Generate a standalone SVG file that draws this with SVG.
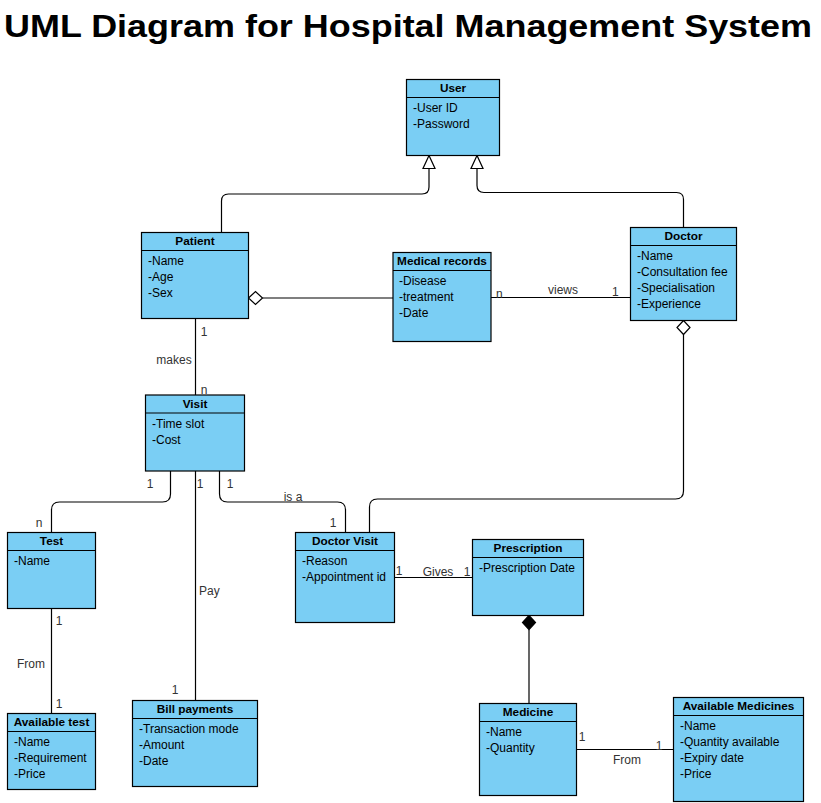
<svg xmlns="http://www.w3.org/2000/svg" width="821" height="803" viewBox="0 0 821 803">
<style>
.box{fill:#7acef4;stroke:#000;stroke-width:1.2}
.div{stroke:#000;stroke-width:1.2}
.hd{font-family:"Liberation Sans",Arial,sans-serif;font-size:11.8px;font-weight:bold;text-anchor:middle;fill:#000}
.at{font-family:"Liberation Sans",Arial,sans-serif;font-size:12px;fill:#000}
.lb{font-family:"Liberation Sans",Arial,sans-serif;font-size:12px;fill:#333}
.lbm{font-family:"Liberation Sans",Arial,sans-serif;font-size:12px;fill:#333;text-anchor:middle}
.ln{fill:none;stroke:#000;stroke-width:1.2}
.hollow{fill:#fff;stroke:#000;stroke-width:1.2}
.solid{fill:#000;stroke:#000;stroke-width:1.2}
</style>
<rect width="821" height="803" fill="#fff"/>
<text x="4" y="37" font-family="'Liberation Sans',Arial,sans-serif" font-size="32" font-weight="bold" textLength="808" lengthAdjust="spacingAndGlyphs">UML Diagram for Hospital Management System</text>

<g id="connectors">
  <path class="ln" d="M221.5,232.5 V201 Q221.5,194 228.5,194 H422 Q429,194 429,187 V168.5"/>
  <polygon class="hollow" points="429,155.5 423,168.5 435,168.5"/>
  <path class="ln" d="M683.5,227.5 V199.5 Q683.5,192.5 676.5,192.5 H484 Q477,192.5 477,185.5 V168.5"/>
  <polygon class="hollow" points="477,155.5 471,168.5 483,168.5"/>
  <path class="ln" d="M262.5,298 H393"/>
  <polygon class="hollow" points="248.5,298 255.5,291.5 262.5,298 255.5,304.5"/>
  <path class="ln" d="M491,297.5 H630.5"/>
  <text class="lb" x="496" y="298">n</text>
  <text class="lb" x="548" y="294">views</text>
  <text class="lb" x="612" y="296">1</text>
  <polygon class="hollow" points="683.5,320.5 690,327.5 683.5,334.5 677,327.5"/>
  <path class="ln" d="M683.5,334.5 V491 Q683.5,499 675.5,499 H377.5 Q369.5,499 369.5,507 V532.5"/>
  <path class="ln" d="M195.5,318.5 V395"/>
  <text class="lbm" x="204" y="336">1</text>
  <text class="lbm" x="174" y="364">makes</text>
  <text class="lbm" x="204" y="394">n</text>
  <path class="ln" d="M170.5,471 V494 Q170.5,502 162.5,502 H59.5 Q51.5,502 51.5,510 V532.5"/>
  <text class="lbm" x="150" y="487.5">1</text>
  <text class="lbm" x="39" y="527">n</text>
  <path class="ln" d="M195.5,471 V700.5"/>
  <text class="lbm" x="200" y="487.5">1</text>
  <text class="lb" x="199" y="595">Pay</text>
  <text class="lbm" x="175" y="694">1</text>
  <path class="ln" d="M219.5,471 V494 Q219.5,502 227.5,502 H337.5 Q345.5,502 345.5,510 V532.5"/>
  <text class="lbm" x="230" y="487.5">1</text>
  <text class="lbm" x="293" y="500.5">is a</text>
  <text class="lbm" x="333" y="527">1</text>
  <path class="ln" d="M51.5,608.5 V713.5"/>
  <text class="lbm" x="59" y="625">1</text>
  <text class="lbm" x="31" y="667.5">From</text>
  <text class="lbm" x="59" y="707.5">1</text>
  <path class="ln" d="M394.5,577.5 H472.5"/>
  <text class="lbm" x="399" y="575">1</text>
  <text class="lbm" x="438" y="575.5">Gives</text>
  <text class="lbm" x="467" y="576">1</text>
  <polygon class="solid" points="529,615.5 535.5,622.5 529,629.5 522.5,622.5"/>
  <path class="ln" d="M529,629.5 V703.5"/>
  <path class="ln" d="M576.5,749.5 H673.5"/>
  <text class="lbm" x="582" y="741">1</text>
  <text class="lbm" x="659" y="750">1</text>
  <text class="lbm" x="627" y="763.5">From</text>
</g>

<g id="user">
  <rect class="box" x="406.5" y="79.5" width="93" height="76"/>
  <line class="div" x1="406.5" y1="97.5" x2="499.5" y2="97.5"/>
  <text class="hd" x="453" y="92">User</text>
  <text class="at" x="413" y="112">-User ID</text>
  <text class="at" x="413" y="128">-Password</text>
</g>
<g id="patient">
  <rect class="box" x="141.5" y="232.5" width="107" height="86"/>
  <line class="div" x1="141.5" y1="250.5" x2="248.5" y2="250.5"/>
  <text class="hd" x="195" y="245">Patient</text>
  <text class="at" x="148" y="265">-Name</text>
  <text class="at" x="148" y="281">-Age</text>
  <text class="at" x="148" y="297">-Sex</text>
</g>
<g id="medical-records">
  <rect class="box" x="393" y="252.5" width="98" height="89"/>
  <line class="div" x1="393" y1="270.5" x2="491" y2="270.5"/>
  <text class="hd" x="442" y="265">Medical records</text>
  <text class="at" x="399" y="285">-Disease</text>
  <text class="at" x="399" y="301">-treatment</text>
  <text class="at" x="399" y="317">-Date</text>
</g>
<g id="doctor">
  <rect class="box" x="630.5" y="227.5" width="106" height="93"/>
  <line class="div" x1="630.5" y1="245.5" x2="736.5" y2="245.5"/>
  <text class="hd" x="683.5" y="240">Doctor</text>
  <text class="at" x="637" y="260">-Name</text>
  <text class="at" x="637" y="276">-Consultation fee</text>
  <text class="at" x="637" y="292">-Specialisation</text>
  <text class="at" x="637" y="308">-Experience</text>
</g>
<g id="visit">
  <rect class="box" x="145.5" y="395" width="99" height="76"/>
  <line class="div" x1="145.5" y1="413" x2="244.5" y2="413"/>
  <text class="hd" x="195" y="408">Visit</text>
  <text class="at" x="152" y="428">-Time slot</text>
  <text class="at" x="152" y="444">-Cost</text>
</g>
<g id="test">
  <rect class="box" x="7.5" y="532.5" width="88" height="76"/>
  <line class="div" x1="7.5" y1="550.5" x2="95.5" y2="550.5"/>
  <text class="hd" x="51.5" y="545">Test</text>
  <text class="at" x="14" y="565">-Name</text>
</g>
<g id="doctor-visit">
  <rect class="box" x="295.5" y="532.5" width="99" height="90"/>
  <line class="div" x1="295.5" y1="550.5" x2="394.5" y2="550.5"/>
  <text class="hd" x="345" y="545">Doctor Visit</text>
  <text class="at" x="302" y="565">-Reason</text>
  <text class="at" x="302" y="581">-Appointment id</text>
</g>
<g id="prescription">
  <rect class="box" x="472.5" y="539.5" width="111" height="76"/>
  <line class="div" x1="472.5" y1="557.5" x2="583.5" y2="557.5"/>
  <text class="hd" x="528" y="552">Prescription</text>
  <text class="at" x="479" y="572">-Prescription Date</text>
</g>
<g id="available-test">
  <rect class="box" x="7.5" y="713.5" width="88" height="76"/>
  <line class="div" x1="7.5" y1="731.5" x2="95.5" y2="731.5"/>
  <text class="hd" x="51.5" y="726">Available test</text>
  <text class="at" x="14" y="746">-Name</text>
  <text class="at" x="14" y="762">-Requirement</text>
  <text class="at" x="14" y="778">-Price</text>
</g>
<g id="bill-payments">
  <rect class="box" x="132.5" y="700.5" width="125" height="86"/>
  <line class="div" x1="132.5" y1="718.5" x2="257.5" y2="718.5"/>
  <text class="hd" x="195" y="713">Bill payments</text>
  <text class="at" x="139" y="733">-Transaction mode</text>
  <text class="at" x="139" y="749">-Amount</text>
  <text class="at" x="139" y="765">-Date</text>
</g>
<g id="medicine">
  <rect class="box" x="479.5" y="703.5" width="97" height="92"/>
  <line class="div" x1="479.5" y1="721.5" x2="576.5" y2="721.5"/>
  <text class="hd" x="528" y="716">Medicine</text>
  <text class="at" x="486" y="736">-Name</text>
  <text class="at" x="486" y="752">-Quantity</text>
</g>
<g id="available-medicines">
  <rect class="box" x="673.5" y="697.5" width="130" height="104"/>
  <line class="div" x1="673.5" y1="715.5" x2="803.5" y2="715.5"/>
  <text class="hd" x="738.5" y="710">Available Medicines</text>
  <text class="at" x="680" y="730">-Name</text>
  <text class="at" x="680" y="746">-Quantity available</text>
  <text class="at" x="680" y="762">-Expiry date</text>
  <text class="at" x="680" y="778">-Price</text>
</g>
</svg>
